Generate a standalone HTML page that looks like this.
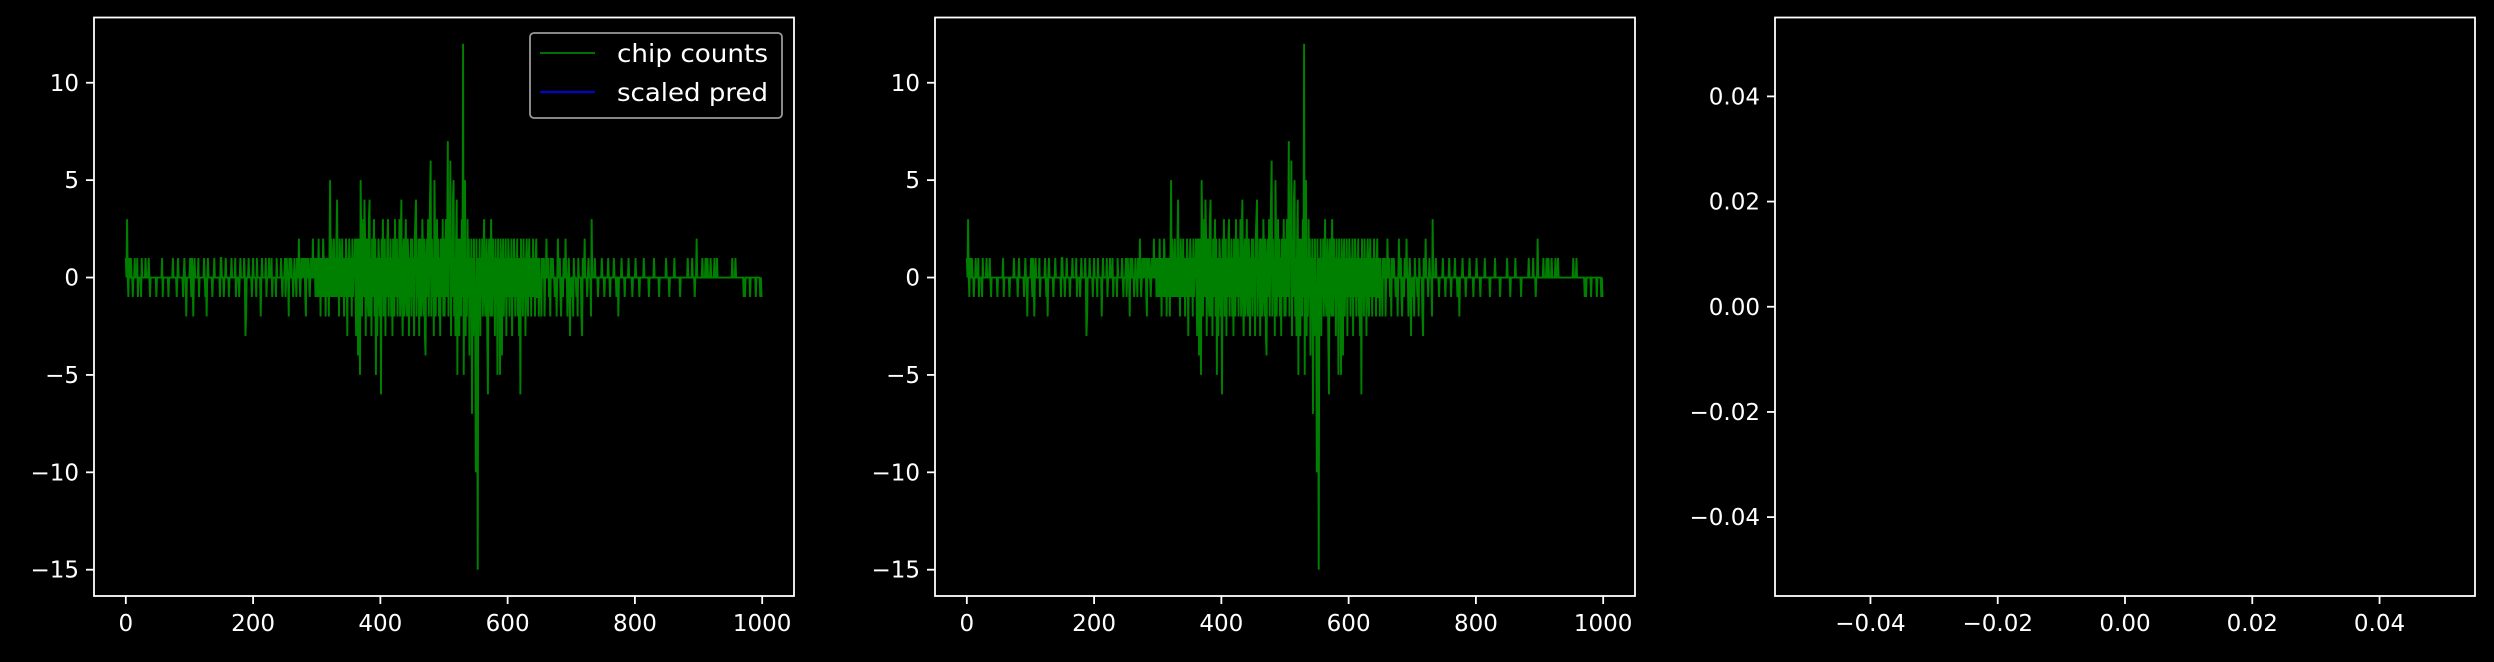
<!DOCTYPE html>
<html><head><meta charset="utf-8">
<style>
html,body{margin:0;padding:0;background:#000;}
svg{display:block;}
text{font-family:"DejaVu Sans","Liberation Sans",sans-serif;fill:#fff;}
</style></head>
<body>
<svg id="fig" width="2494" height="662" xmlns="http://www.w3.org/2000/svg">
<rect x="0" y="0" width="2494" height="662" fill="#000"/>
</svg>
<script>
const chipCounts = [
1,0,3,0,-1,1,0,0,1,0,0,-1,0,0,1,0,0,0,1,-1,0,0,0,0,-1,1,0,0,0,0,0,1,0,0,0,0,1,0,-1,0,0,0,0,0,0,0,0,0,-1,0,
0,0,0,0,0,0,0,1,-1,0,0,0,0,0,0,0,0,-1,0,0,0,0,0,0,1,0,0,0,0,0,-1,0,1,0,0,0,0,0,0,0,-1,0,1,0,0,-2,0,0,0,0,
0,1,0,-1,1,0,-2,0,1,0,0,0,0,0,1,-1,0,0,0,0,0,0,0,1,0,-1,0,-2,0,1,0,0,0,0,0,0,-1,0,0,1,0,0,0,0,0,0,0,0,-1,1,
1,0,0,0,-1,0,0,1,0,0,0,0,-1,0,0,0,1,0,0,0,0,0,1,-1,0,0,0,0,-1,0,1,0,0,0,0,0,1,0,-3,-2,0,0,0,1,0,0,0,0,-1,0,
1,0,0,0,0,-1,1,0,0,0,0,0,-2,0,1,0,0,0,0,0,1,-1,0,0,0,1,0,0,0,1,-1,0,0,0,0,0,-1,1,0,0,0,0,0,0,1,0,-1,0,0,0,
1,-1,0,1,0,0,-2,1,0,0,1,0,0,-1,0,1,0,0,-1,1,0,0,2,0,-1,0,1,0,0,1,0,1,-1,-2,1,0,0,1,0,-1,0,1,0,0,2,0,0,1,-1,0,
1,-1,0,2,-1,1,-2,1,0,-1,2,1,-1,1,-2,1,0,-1,1,-2,1,5,-1,2,1,-1,0,2,-1,1,-1,2,4,-1,1,-2,2,1,-1,0,2,-1,1,-2,1,-1,2,1,-3,1,
-1,2,1,-1,1,-2,2,-1,1,0,2,-1,-3,2,1,-4,2,-1,-5,5,2,-2,1,3,-1,4,2,-3,1,2,-1,-2,3,4,-2,1,-3,2,-1,1,3,-2,2,-5,1,-3,-1,2,1,-2,
1,-6,2,-1,3,-2,1,2,-3,1,-1,2,3,-2,1,-1,2,-2,1,-3,2,1,-2,3,-1,1,2,-2,1,-1,3,-2,2,4,-1,-3,1,2,-2,1,3,-1,-2,2,1,-3,1,-1,2,-2,
2,-1,1,-3,2,3,4,-2,1,-1,2,-3,1,2,-2,-1,3,1,-2,2,-3,-4,1,2,-1,3,-2,1,4,6,-2,2,-1,1,-3,5,2,-2,1,3,-1,2,-2,1,-3,2,1,-1,3,-2,
2,-2,1,3,-1,2,7,-2,3,1,6,-3,2,-1,4,5,-2,1,-3,2,4,-5,2,1,-3,2,1,-2,3,-1,12,-5,2,5,-3,1,-2,3,-1,2,-4,1,-2,2,-7,1,-3,2,-1,-2,
-10,2,-3,-15,1,-2,2,-3,1,-1,2,-2,1,3,-1,-2,1,2,-3,-6,1,2,-1,-2,3,1,-2,2,-1,1,-3,2,-1,1,-5,2,-2,1,-5,2,-1,-4,1,2,-2,1,-1,2,-3,1,
-1,2,1,-2,1,-1,2,-3,1,-1,2,1,-2,1,-1,2,-2,1,-3,1,-6,2,-1,1,-2,2,-1,1,-3,1,2,-1,-2,1,2,-1,1,-2,1,-1,2,-1,1,-2,1,2,-1,-1,1,-2,
1,-1,0,-2,1,0,0,1,-2,0,0,2,0,0,1,-1,0,-2,1,0,0,1,0,0,-1,0,0,-2,0,2,0,0,1,-1,-2,0,0,-1,1,0,0,2,0,0,-2,0,1,0,-3,0,
-1,0,0,-2,1,0,0,0,-1,0,-2,1,0,0,0,0,-2,-3,1,0,0,2,0,0,0,-1,0,1,0,0,0,-2,3,0,0,0,0,1,0,0,0,0,-1,0,0,0,0,0,1,0,
0,0,-1,0,0,0,0,0,1,0,0,-1,0,0,0,0,0,1,0,0,0,-1,0,0,-2,0,0,0,0,1,0,0,0,0,-1,0,0,0,0,0,1,0,0,0,0,0,-1,0,0,0,
0,1,0,0,0,0,0,-1,0,0,0,0,0,0,1,0,0,0,0,0,0,0,-1,0,0,0,0,0,0,0,1,0,0,0,0,0,0,0,-1,0,0,0,0,0,0,0,0,0,0,1,
0,0,0,0,-1,0,0,0,0,0,0,0,1,0,0,0,0,0,0,0,0,-1,0,0,0,0,0,0,0,0,0,0,0,1,0,0,0,0,0,0,1,0,0,0,-1,0,0,2,0,0,
0,0,0,0,0,0,1,0,0,0,0,1,0,0,1,0,0,0,0,1,0,0,0,0,0,1,0,0,0,1,0,0,0,0,0,0,0,0,0,0,0,0,0,0,0,0,0,0,0,0,
0,0,0,1,0,0,0,0,1,0,0,0,0,0,0,0,0,0,0,0,0,-1,0,-1,0,0,0,0,0,0,0,-1,0,0,0,0,0,0,0,0,-1,0,0,0,0,0,0,-1,0,-1
];
const xTicks = [0,200,400,600,800,1000];
const yTicks = [-15,-10,-5,0,5,10];
const emptyTicks = [-0.04,-0.02,0.00,0.02,0.04];
const emptyTickLabels = ["\u22120.04","\u22120.02","0.00","0.02","0.04"];
const legendLabels = ["chip counts","scaled pred"];

const NS = "http://www.w3.org/2000/svg";
const svg = document.getElementById('fig');
function mk(tag, attrs, parent){
  const e = document.createElementNS(NS, tag);
  for (const k in attrs) e.setAttribute(k, attrs[k]);
  (parent||svg).appendChild(e);
  return e;
}
const TOP = 17.5, BOT = 596, W = 700;
const FS = 23;
function fmt(v){ return v<0 ? "\u2212"+Math.abs(v) : String(v); }

function axesFrame(left, name, xs, xLabels, xScale, ys, yLabels, yScale){
  const g = mk('g', {});
  
  
  const gx = mk('g', {}, g);
  
  
  xs.forEach((v,i)=>{
    const px = xScale(v);
    mk('line',{x1:px,x2:px,y1:BOT,y2:BOT+8,stroke:'#fff','stroke-width':1.8},gx);
    const t = mk('text',{x:px,y:BOT+35,'text-anchor':'middle','font-size':FS},gx);
    
    
    t.textContent = xLabels[i];
  });
  const gy = mk('g', {}, g);
  
  
  ys.forEach((v,i)=>{
    const py = yScale(v);
    mk('line',{x1:left-8,x2:left,y1:py,y2:py,stroke:'#fff','stroke-width':1.8},gy);
    const t = mk('text',{x:left-15,y:py+8,'text-anchor':'end','font-size':FS},gy);
    
    
    t.textContent = yLabels[i];
  });
  return g;
}
function spine(left, g){
  const r = mk('rect',{x:left,y:TOP,width:W,height:BOT-TOP,fill:'none',stroke:'#fff','stroke-width':1.8},g);
  
  
}

function dataPanel(left, name, withLegend){
  const xMin=-50, xMax=1050, yMin=-16.35, yMax=13.35;
  const xScale = v => left + (v-xMin)/(xMax-xMin)*W;
  const yScale = v => BOT - (v-yMin)/(yMax-yMin)*(BOT-TOP);
  const g = axesFrame(left, name, xTicks, xTicks.map(fmt), xScale, yTicks, yTicks.map(fmt), yScale);
  let d = '';
  chipCounts.forEach((v,i)=>{ d += (i?'L':'M') + xScale(i).toFixed(2) + ' ' + yScale(v).toFixed(2); });
  const p = mk('path',{d:d,fill:'none',stroke:'#008000','stroke-width':1.9,'stroke-linejoin':'miter'},g);
  
  
  spine(left, g);
  if (withLegend){
    const lg = mk('g',{},g);
    
    
    mk('rect',{x:530,y:33,width:252,height:85,rx:4,fill:'#000',stroke:'#999','stroke-width':1.8,'fill-opacity':0.8},lg);
    const cols = ['#008000','#0000ff'];
    legendLabels.forEach((lab,i)=>{
      const y = 53 + i*39;
      const e = mk('g',{},lg);
      
      
      mk('line',{x1:540,x2:595,y1:y,y2:y,stroke:cols[i],'stroke-width':1.8},e);
      const t = mk('text',{x:617,y:y+9,'font-size':25,textLength:151,lengthAdjust:'spacingAndGlyphs'},e);
      t.textContent = lab;
    });
  }
}
dataPanel(94, 'chart-panel-1', true);
dataPanel(935, 'chart-panel-2', false);

(function(){
  const left = 1775;
  const xScale = v => left + (v+0.055)/0.11*W;
  const yScale = v => BOT - (v+0.055)/0.11*(BOT-TOP);
  const g = axesFrame(left, 'chart-panel-3-empty', emptyTicks, emptyTickLabels, xScale, emptyTicks, emptyTickLabels, yScale);
  spine(left, g);
})();
</script>
</body></html>
